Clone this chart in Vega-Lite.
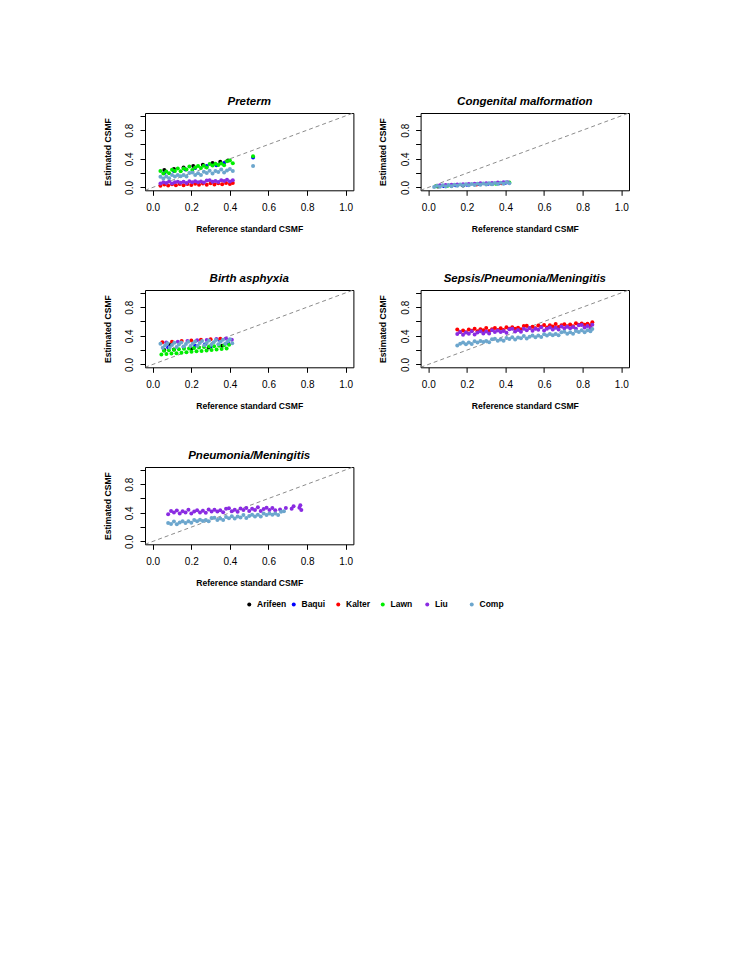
{
"$schema": "https://vega.github.io/schema/vega-lite/v6.json",
"padding": {"left": 102, "top": 95, "right": 5, "bottom": 5},
"background": "white",
"datasets": {
"ab": [{"x": -0.04, "y": -0.04}, {"x": 1.04, "y": 1.04}],
"pre": [
{"s":"Arifeen","x":0.06,"y":0.243},{"s":"Arifeen","x":0.11,"y":0.258},{"s":"Arifeen","x":0.16,"y":0.279},{"s":"Arifeen","x":0.21,"y":0.298},{"s":"Arifeen","x":0.26,"y":0.318},{"s":"Arifeen","x":0.31,"y":0.342},{"s":"Arifeen","x":0.35,"y":0.360},{"s":"Arifeen","x":0.39,"y":0.378},
{"s":"Baqui","x":0.06,"y":0.2},{"s":"Baqui","x":0.11,"y":0.23},{"s":"Baqui","x":0.17,"y":0.25},{"s":"Baqui","x":0.22,"y":0.27},{"s":"Baqui","x":0.28,"y":0.3},{"s":"Baqui","x":0.33,"y":0.31},{"s":"Baqui","x":0.37,"y":0.34},{"s":"Baqui","x":0.52,"y":0.42},
{"s":"Kalter","x":0.04,"y":0.025},{"s":"Kalter","x":0.06,"y":0.042},{"s":"Kalter","x":0.08,"y":0.027},{"s":"Kalter","x":0.10,"y":0.045},{"s":"Kalter","x":0.12,"y":0.030},{"s":"Kalter","x":0.14,"y":0.047},{"s":"Kalter","x":0.16,"y":0.032},{"s":"Kalter","x":0.18,"y":0.049},{"s":"Kalter","x":0.20,"y":0.035},{"s":"Kalter","x":0.22,"y":0.052},{"s":"Kalter","x":0.24,"y":0.037},{"s":"Kalter","x":0.26,"y":0.054},{"s":"Kalter","x":0.28,"y":0.039},{"s":"Kalter","x":0.30,"y":0.057},{"s":"Kalter","x":0.32,"y":0.042},{"s":"Kalter","x":0.34,"y":0.059},{"s":"Kalter","x":0.36,"y":0.044},{"s":"Kalter","x":0.38,"y":0.061},{"s":"Kalter","x":0.40,"y":0.047},{"s":"Kalter","x":0.415,"y":0.063},
{"s":"Lawn","x":0.040,"y":0.231},{"s":"Lawn","x":0.055,"y":0.195},{"s":"Lawn","x":0.070,"y":0.222},{"s":"Lawn","x":0.085,"y":0.197},{"s":"Lawn","x":0.100,"y":0.247},{"s":"Lawn","x":0.115,"y":0.230},{"s":"Lawn","x":0.130,"y":0.264},{"s":"Lawn","x":0.145,"y":0.226},{"s":"Lawn","x":0.160,"y":0.263},{"s":"Lawn","x":0.175,"y":0.249},{"s":"Lawn","x":0.190,"y":0.291},{"s":"Lawn","x":0.205,"y":0.245},{"s":"Lawn","x":0.220,"y":0.277},{"s":"Lawn","x":0.235,"y":0.299},{"s":"Lawn","x":0.250,"y":0.271},{"s":"Lawn","x":0.265,"y":0.303},{"s":"Lawn","x":0.280,"y":0.278},{"s":"Lawn","x":0.295,"y":0.328},{"s":"Lawn","x":0.310,"y":0.305},{"s":"Lawn","x":0.325,"y":0.332},{"s":"Lawn","x":0.340,"y":0.312},{"s":"Lawn","x":0.355,"y":0.334},{"s":"Lawn","x":0.370,"y":0.311},{"s":"Lawn","x":0.385,"y":0.366},{"s":"Lawn","x":0.400,"y":0.375},{"s":"Lawn","x":0.415,"y":0.339},{"s":"Lawn","x":0.52,"y":0.435},
{"s":"Liu","x":0.040,"y":0.054},{"s":"Liu","x":0.055,"y":0.072},{"s":"Liu","x":0.070,"y":0.062},{"s":"Liu","x":0.085,"y":0.083},{"s":"Liu","x":0.100,"y":0.056},{"s":"Liu","x":0.115,"y":0.071},{"s":"Liu","x":0.130,"y":0.081},{"s":"Liu","x":0.145,"y":0.064},{"s":"Liu","x":0.160,"y":0.079},{"s":"Liu","x":0.175,"y":0.063},{"s":"Liu","x":0.190,"y":0.088},{"s":"Liu","x":0.205,"y":0.074},{"s":"Liu","x":0.220,"y":0.087},{"s":"Liu","x":0.235,"y":0.074},{"s":"Liu","x":0.250,"y":0.084},{"s":"Liu","x":0.265,"y":0.069},{"s":"Liu","x":0.280,"y":0.097},{"s":"Liu","x":0.295,"y":0.100},{"s":"Liu","x":0.310,"y":0.079},{"s":"Liu","x":0.325,"y":0.091},{"s":"Liu","x":0.340,"y":0.075},{"s":"Liu","x":0.355,"y":0.100},{"s":"Liu","x":0.370,"y":0.089},{"s":"Liu","x":0.385,"y":0.106},{"s":"Liu","x":0.400,"y":0.083},{"s":"Liu","x":0.415,"y":0.101},
{"s":"Comp","x":0.040,"y":0.151},{"s":"Comp","x":0.055,"y":0.125},{"s":"Comp","x":0.070,"y":0.153},{"s":"Comp","x":0.085,"y":0.129},{"s":"Comp","x":0.100,"y":0.174},{"s":"Comp","x":0.115,"y":0.152},{"s":"Comp","x":0.130,"y":0.175},{"s":"Comp","x":0.145,"y":0.156},{"s":"Comp","x":0.160,"y":0.174},{"s":"Comp","x":0.175,"y":0.152},{"s":"Comp","x":0.190,"y":0.202},{"s":"Comp","x":0.205,"y":0.209},{"s":"Comp","x":0.220,"y":0.175},{"s":"Comp","x":0.235,"y":0.198},{"s":"Comp","x":0.250,"y":0.174},{"s":"Comp","x":0.265,"y":0.219},{"s":"Comp","x":0.280,"y":0.202},{"s":"Comp","x":0.295,"y":0.233},{"s":"Comp","x":0.310,"y":0.196},{"s":"Comp","x":0.325,"y":0.229},{"s":"Comp","x":0.340,"y":0.214},{"s":"Comp","x":0.355,"y":0.252},{"s":"Comp","x":0.370,"y":0.209},{"s":"Comp","x":0.385,"y":0.237},{"s":"Comp","x":0.400,"y":0.256},{"s":"Comp","x":0.415,"y":0.229},{"s":"Comp","x":0.52,"y":0.30}
],
"con": [
{"s":"Arifeen","x":0.05,"y":0.012},{"s":"Arifeen","x":0.18,"y":0.028},{"s":"Arifeen","x":0.33,"y":0.049},
{"s":"Baqui","x":0.08,"y":0.02},{"s":"Baqui","x":0.14,"y":0.03},{"s":"Baqui","x":0.2,"y":0.036},{"s":"Baqui","x":0.26,"y":0.047},{"s":"Baqui","x":0.31,"y":0.052},{"s":"Baqui","x":0.37,"y":0.058},{"s":"Baqui","x":0.4,"y":0.064},
{"s":"Kalter","x":0.12,"y":0.024},{"s":"Kalter","x":0.25,"y":0.04},{"s":"Kalter","x":0.38,"y":0.06},
{"s":"Lawn","x":0.04,"y":0.018},{"s":"Lawn","x":0.1,"y":0.022},{"s":"Lawn","x":0.3,"y":0.05},{"s":"Lawn","x":0.35,"y":0.052},{"s":"Lawn","x":0.42,"y":0.07},
{"s":"Liu","x":0.06,"y":0.029},{"s":"Liu","x":0.09,"y":0.033},{"s":"Liu","x":0.12,"y":0.037},{"s":"Liu","x":0.15,"y":0.041},{"s":"Liu","x":0.18,"y":0.045},{"s":"Liu","x":0.21,"y":0.048},{"s":"Liu","x":0.24,"y":0.052},{"s":"Liu","x":0.27,"y":0.057},{"s":"Liu","x":0.30,"y":0.06},{"s":"Liu","x":0.33,"y":0.063},{"s":"Liu","x":0.36,"y":0.068},{"s":"Liu","x":0.39,"y":0.071},{"s":"Liu","x":0.41,"y":0.074},
{"s":"Comp","x":0.030,"y":0.007},{"s":"Comp","x":0.045,"y":0.025},{"s":"Comp","x":0.060,"y":0.011},{"s":"Comp","x":0.075,"y":0.029},{"s":"Comp","x":0.090,"y":0.014},{"s":"Comp","x":0.105,"y":0.033},{"s":"Comp","x":0.120,"y":0.018},{"s":"Comp","x":0.135,"y":0.036},{"s":"Comp","x":0.150,"y":0.022},{"s":"Comp","x":0.165,"y":0.040},{"s":"Comp","x":0.180,"y":0.026},{"s":"Comp","x":0.195,"y":0.044},{"s":"Comp","x":0.210,"y":0.030},{"s":"Comp","x":0.225,"y":0.048},{"s":"Comp","x":0.240,"y":0.034},{"s":"Comp","x":0.255,"y":0.052},{"s":"Comp","x":0.270,"y":0.038},{"s":"Comp","x":0.285,"y":0.056},{"s":"Comp","x":0.300,"y":0.042},{"s":"Comp","x":0.315,"y":0.059},{"s":"Comp","x":0.330,"y":0.045},{"s":"Comp","x":0.345,"y":0.063},{"s":"Comp","x":0.360,"y":0.049},{"s":"Comp","x":0.375,"y":0.067},{"s":"Comp","x":0.390,"y":0.053},{"s":"Comp","x":0.405,"y":0.071},{"s":"Comp","x":0.420,"y":0.057}
],
"bir": [
{"s":"Arifeen","x":0.06,"y":0.2},{"s":"Arifeen","x":0.11,"y":0.21},{"s":"Arifeen","x":0.2,"y":0.22},{"s":"Arifeen","x":0.29,"y":0.235},{"s":"Arifeen","x":0.36,"y":0.26},{"s":"Arifeen","x":0.09,"y":0.28},
{"s":"Baqui","x":0.08,"y":0.24},{"s":"Baqui","x":0.16,"y":0.245},{"s":"Baqui","x":0.22,"y":0.26},{"s":"Baqui","x":0.27,"y":0.28},{"s":"Baqui","x":0.3,"y":0.25},{"s":"Baqui","x":0.35,"y":0.33},{"s":"Baqui","x":0.39,"y":0.3},
{"s":"Kalter","x":0.05,"y":0.31},{"s":"Kalter","x":0.1,"y":0.318},{"s":"Kalter","x":0.15,"y":0.327},{"s":"Kalter","x":0.2,"y":0.335},{"s":"Kalter","x":0.25,"y":0.345},{"s":"Kalter","x":0.3,"y":0.352},{"s":"Kalter","x":0.35,"y":0.36},
{"s":"Lawn","x":0.045,"y":0.139},{"s":"Lawn","x":0.058,"y":0.192},{"s":"Lawn","x":0.071,"y":0.146},{"s":"Lawn","x":0.084,"y":0.199},{"s":"Lawn","x":0.097,"y":0.152},{"s":"Lawn","x":0.110,"y":0.205},{"s":"Lawn","x":0.123,"y":0.158},{"s":"Lawn","x":0.136,"y":0.211},{"s":"Lawn","x":0.149,"y":0.163},{"s":"Lawn","x":0.162,"y":0.218},{"s":"Lawn","x":0.175,"y":0.170},{"s":"Lawn","x":0.188,"y":0.224},{"s":"Lawn","x":0.201,"y":0.177},{"s":"Lawn","x":0.214,"y":0.231},{"s":"Lawn","x":0.227,"y":0.183},{"s":"Lawn","x":0.240,"y":0.236},{"s":"Lawn","x":0.253,"y":0.189},{"s":"Lawn","x":0.266,"y":0.243},{"s":"Lawn","x":0.279,"y":0.196},{"s":"Lawn","x":0.292,"y":0.249},{"s":"Lawn","x":0.305,"y":0.202},{"s":"Lawn","x":0.318,"y":0.255},{"s":"Lawn","x":0.331,"y":0.208},{"s":"Lawn","x":0.344,"y":0.262},{"s":"Lawn","x":0.357,"y":0.215},{"s":"Lawn","x":0.370,"y":0.268},{"s":"Lawn","x":0.383,"y":0.221},{"s":"Lawn","x":0.396,"y":0.274},
{"s":"Liu","x":0.07,"y":0.305},{"s":"Liu","x":0.13,"y":0.316},{"s":"Liu","x":0.18,"y":0.326},{"s":"Liu","x":0.23,"y":0.338},{"s":"Liu","x":0.28,"y":0.343},{"s":"Liu","x":0.33,"y":0.355},{"s":"Liu","x":0.38,"y":0.362},{"s":"Liu","x":0.41,"y":0.345},
{"s":"Comp","x":0.040,"y":0.290},{"s":"Comp","x":0.052,"y":0.233},{"s":"Comp","x":0.064,"y":0.266},{"s":"Comp","x":0.076,"y":0.297},{"s":"Comp","x":0.088,"y":0.236},{"s":"Comp","x":0.100,"y":0.272},{"s":"Comp","x":0.112,"y":0.304},{"s":"Comp","x":0.124,"y":0.244},{"s":"Comp","x":0.136,"y":0.279},{"s":"Comp","x":0.148,"y":0.308},{"s":"Comp","x":0.160,"y":0.250},{"s":"Comp","x":0.172,"y":0.285},{"s":"Comp","x":0.184,"y":0.316},{"s":"Comp","x":0.196,"y":0.256},{"s":"Comp","x":0.208,"y":0.291},{"s":"Comp","x":0.220,"y":0.321},{"s":"Comp","x":0.232,"y":0.262},{"s":"Comp","x":0.244,"y":0.298},{"s":"Comp","x":0.256,"y":0.327},{"s":"Comp","x":0.268,"y":0.269},{"s":"Comp","x":0.280,"y":0.304},{"s":"Comp","x":0.292,"y":0.335},{"s":"Comp","x":0.304,"y":0.275},{"s":"Comp","x":0.316,"y":0.311},{"s":"Comp","x":0.328,"y":0.340},{"s":"Comp","x":0.340,"y":0.282},{"s":"Comp","x":0.352,"y":0.317},{"s":"Comp","x":0.364,"y":0.346},{"s":"Comp","x":0.376,"y":0.288},{"s":"Comp","x":0.388,"y":0.324},{"s":"Comp","x":0.400,"y":0.352},{"s":"Comp","x":0.412,"y":0.296}
],
"sep": [
{"s":"Kalter","x":0.150,"y":0.487},{"s":"Kalter","x":0.165,"y":0.454},{"s":"Kalter","x":0.180,"y":0.474},{"s":"Kalter","x":0.195,"y":0.450},{"s":"Kalter","x":0.210,"y":0.489},{"s":"Kalter","x":0.225,"y":0.472},{"s":"Kalter","x":0.240,"y":0.498},{"s":"Kalter","x":0.255,"y":0.463},{"s":"Kalter","x":0.270,"y":0.492},{"s":"Kalter","x":0.285,"y":0.476},{"s":"Kalter","x":0.300,"y":0.510},{"s":"Kalter","x":0.315,"y":0.468},{"s":"Kalter","x":0.330,"y":0.492},{"s":"Kalter","x":0.345,"y":0.508},{"s":"Kalter","x":0.360,"y":0.481},{"s":"Kalter","x":0.375,"y":0.505},{"s":"Kalter","x":0.390,"y":0.481},{"s":"Kalter","x":0.405,"y":0.521},{"s":"Kalter","x":0.420,"y":0.499},{"s":"Kalter","x":0.435,"y":0.519},{"s":"Kalter","x":0.450,"y":0.499},{"s":"Kalter","x":0.465,"y":0.514},{"s":"Kalter","x":0.480,"y":0.493},{"s":"Kalter","x":0.495,"y":0.537},{"s":"Kalter","x":0.510,"y":0.541},{"s":"Kalter","x":0.525,"y":0.508},{"s":"Kalter","x":0.540,"y":0.528},{"s":"Kalter","x":0.555,"y":0.504},{"s":"Kalter","x":0.570,"y":0.543},{"s":"Kalter","x":0.585,"y":0.526},{"s":"Kalter","x":0.600,"y":0.552},{"s":"Kalter","x":0.615,"y":0.517},{"s":"Kalter","x":0.630,"y":0.546},{"s":"Kalter","x":0.645,"y":0.530},{"s":"Kalter","x":0.660,"y":0.564},{"s":"Kalter","x":0.675,"y":0.522},{"s":"Kalter","x":0.690,"y":0.546},{"s":"Kalter","x":0.705,"y":0.561},{"s":"Kalter","x":0.720,"y":0.535},{"s":"Kalter","x":0.735,"y":0.559},{"s":"Kalter","x":0.750,"y":0.535},{"s":"Kalter","x":0.765,"y":0.575},{"s":"Kalter","x":0.780,"y":0.553},{"s":"Kalter","x":0.795,"y":0.573},{"s":"Kalter","x":0.810,"y":0.553},{"s":"Kalter","x":0.825,"y":0.569},{"s":"Kalter","x":0.840,"y":0.547},{"s":"Kalter","x":0.850,"y":0.591},
{"s":"Liu","x":0.150,"y":0.425},{"s":"Liu","x":0.165,"y":0.454},{"s":"Liu","x":0.180,"y":0.415},{"s":"Liu","x":0.195,"y":0.446},{"s":"Liu","x":0.210,"y":0.429},{"s":"Liu","x":0.225,"y":0.465},{"s":"Liu","x":0.240,"y":0.420},{"s":"Liu","x":0.255,"y":0.446},{"s":"Liu","x":0.270,"y":0.462},{"s":"Liu","x":0.285,"y":0.433},{"s":"Liu","x":0.300,"y":0.460},{"s":"Liu","x":0.315,"y":0.433},{"s":"Liu","x":0.330,"y":0.476},{"s":"Liu","x":0.345,"y":0.452},{"s":"Liu","x":0.360,"y":0.474},{"s":"Liu","x":0.375,"y":0.452},{"s":"Liu","x":0.390,"y":0.468},{"s":"Liu","x":0.405,"y":0.444},{"s":"Liu","x":0.420,"y":0.492},{"s":"Liu","x":0.435,"y":0.497},{"s":"Liu","x":0.450,"y":0.461},{"s":"Liu","x":0.465,"y":0.482},{"s":"Liu","x":0.480,"y":0.456},{"s":"Liu","x":0.495,"y":0.499},{"s":"Liu","x":0.510,"y":0.479},{"s":"Liu","x":0.525,"y":0.508},{"s":"Liu","x":0.540,"y":0.469},{"s":"Liu","x":0.555,"y":0.500},{"s":"Liu","x":0.570,"y":0.483},{"s":"Liu","x":0.585,"y":0.519},{"s":"Liu","x":0.600,"y":0.474},{"s":"Liu","x":0.615,"y":0.500},{"s":"Liu","x":0.630,"y":0.516},{"s":"Liu","x":0.645,"y":0.488},{"s":"Liu","x":0.660,"y":0.514},{"s":"Liu","x":0.675,"y":0.487},{"s":"Liu","x":0.690,"y":0.530},{"s":"Liu","x":0.705,"y":0.506},{"s":"Liu","x":0.720,"y":0.528},{"s":"Liu","x":0.735,"y":0.506},{"s":"Liu","x":0.750,"y":0.522},{"s":"Liu","x":0.765,"y":0.498},{"s":"Liu","x":0.780,"y":0.546},{"s":"Liu","x":0.795,"y":0.551},{"s":"Liu","x":0.810,"y":0.515},{"s":"Liu","x":0.825,"y":0.536},{"s":"Liu","x":0.840,"y":0.510},{"s":"Liu","x":0.850,"y":0.553},
{"s":"Comp","x":0.150,"y":0.265},{"s":"Comp","x":0.165,"y":0.289},{"s":"Comp","x":0.180,"y":0.305},{"s":"Comp","x":0.195,"y":0.283},{"s":"Comp","x":0.210,"y":0.307},{"s":"Comp","x":0.225,"y":0.287},{"s":"Comp","x":0.240,"y":0.325},{"s":"Comp","x":0.255,"y":0.307},{"s":"Comp","x":0.270,"y":0.328},{"s":"Comp","x":0.285,"y":0.312},{"s":"Comp","x":0.300,"y":0.328},{"s":"Comp","x":0.315,"y":0.310},{"s":"Comp","x":0.330,"y":0.352},{"s":"Comp","x":0.345,"y":0.358},{"s":"Comp","x":0.360,"y":0.330},{"s":"Comp","x":0.375,"y":0.350},{"s":"Comp","x":0.390,"y":0.330},{"s":"Comp","x":0.405,"y":0.368},{"s":"Comp","x":0.420,"y":0.354},{"s":"Comp","x":0.435,"y":0.380},{"s":"Comp","x":0.450,"y":0.350},{"s":"Comp","x":0.465,"y":0.378},{"s":"Comp","x":0.480,"y":0.366},{"s":"Comp","x":0.495,"y":0.399},{"s":"Comp","x":0.510,"y":0.363},{"s":"Comp","x":0.525,"y":0.387},{"s":"Comp","x":0.540,"y":0.403},{"s":"Comp","x":0.555,"y":0.381},{"s":"Comp","x":0.570,"y":0.405},{"s":"Comp","x":0.585,"y":0.385},{"s":"Comp","x":0.600,"y":0.423},{"s":"Comp","x":0.615,"y":0.405},{"s":"Comp","x":0.630,"y":0.425},{"s":"Comp","x":0.645,"y":0.409},{"s":"Comp","x":0.660,"y":0.425},{"s":"Comp","x":0.675,"y":0.407},{"s":"Comp","x":0.690,"y":0.449},{"s":"Comp","x":0.705,"y":0.455},{"s":"Comp","x":0.720,"y":0.428},{"s":"Comp","x":0.735,"y":0.448},{"s":"Comp","x":0.750,"y":0.428},{"s":"Comp","x":0.765,"y":0.466},{"s":"Comp","x":0.780,"y":0.452},{"s":"Comp","x":0.795,"y":0.478},{"s":"Comp","x":0.810,"y":0.448},{"s":"Comp","x":0.825,"y":0.476},{"s":"Comp","x":0.840,"y":0.464},{"s":"Comp","x":0.850,"y":0.496}
],
"pne": [
{"s":"Liu","x":0.080,"y":0.379},{"s":"Liu","x":0.095,"y":0.425},{"s":"Liu","x":0.110,"y":0.403},{"s":"Liu","x":0.125,"y":0.433},{"s":"Liu","x":0.140,"y":0.390},{"s":"Liu","x":0.155,"y":0.423},{"s":"Liu","x":0.170,"y":0.403},{"s":"Liu","x":0.185,"y":0.441},{"s":"Liu","x":0.200,"y":0.391},{"s":"Liu","x":0.215,"y":0.418},{"s":"Liu","x":0.230,"y":0.435},{"s":"Liu","x":0.245,"y":0.403},{"s":"Liu","x":0.260,"y":0.430},{"s":"Liu","x":0.275,"y":0.401},{"s":"Liu","x":0.290,"y":0.446},{"s":"Liu","x":0.305,"y":0.419},{"s":"Liu","x":0.320,"y":0.442},{"s":"Liu","x":0.335,"y":0.417},{"s":"Liu","x":0.350,"y":0.434},{"s":"Liu","x":0.365,"y":0.407},{"s":"Liu","x":0.380,"y":0.458},{"s":"Liu","x":0.395,"y":0.462},{"s":"Liu","x":0.410,"y":0.422},{"s":"Liu","x":0.425,"y":0.444},{"s":"Liu","x":0.440,"y":0.414},{"s":"Liu","x":0.455,"y":0.460},{"s":"Liu","x":0.470,"y":0.438},{"s":"Liu","x":0.485,"y":0.468},{"s":"Liu","x":0.500,"y":0.425},{"s":"Liu","x":0.515,"y":0.458},{"s":"Liu","x":0.530,"y":0.439},{"s":"Liu","x":0.545,"y":0.477},{"s":"Liu","x":0.560,"y":0.426},{"s":"Liu","x":0.575,"y":0.454},{"s":"Liu","x":0.590,"y":0.471},{"s":"Liu","x":0.605,"y":0.438},{"s":"Liu","x":0.620,"y":0.466},{"s":"Liu","x":0.635,"y":0.436},{"s":"Liu","x":0.66,"y":0.445},{"s":"Liu","x":0.69,"y":0.468},{"s":"Liu","x":0.72,"y":0.455},{"s":"Liu","x":0.73,"y":0.49},{"s":"Liu","x":0.76,"y":0.47},{"s":"Liu","x":0.765,"y":0.505},{"s":"Liu","x":0.77,"y":0.44},
{"s":"Comp","x":0.080,"y":0.259},{"s":"Comp","x":0.095,"y":0.245},{"s":"Comp","x":0.110,"y":0.280},{"s":"Comp","x":0.125,"y":0.239},{"s":"Comp","x":0.140,"y":0.265},{"s":"Comp","x":0.155,"y":0.282},{"s":"Comp","x":0.170,"y":0.257},{"s":"Comp","x":0.185,"y":0.283},{"s":"Comp","x":0.200,"y":0.260},{"s":"Comp","x":0.215,"y":0.301},{"s":"Comp","x":0.230,"y":0.281},{"s":"Comp","x":0.245,"y":0.302},{"s":"Comp","x":0.260,"y":0.284},{"s":"Comp","x":0.275,"y":0.301},{"s":"Comp","x":0.290,"y":0.281},{"s":"Comp","x":0.305,"y":0.326},{"s":"Comp","x":0.320,"y":0.332},{"s":"Comp","x":0.335,"y":0.301},{"s":"Comp","x":0.350,"y":0.322},{"s":"Comp","x":0.365,"y":0.299},{"s":"Comp","x":0.380,"y":0.340},{"s":"Comp","x":0.395,"y":0.324},{"s":"Comp","x":0.410,"y":0.352},{"s":"Comp","x":0.425,"y":0.319},{"s":"Comp","x":0.440,"y":0.349},{"s":"Comp","x":0.455,"y":0.335},{"s":"Comp","x":0.470,"y":0.370},{"s":"Comp","x":0.485,"y":0.329},{"s":"Comp","x":0.500,"y":0.355},{"s":"Comp","x":0.515,"y":0.372},{"s":"Comp","x":0.530,"y":0.347},{"s":"Comp","x":0.545,"y":0.373},{"s":"Comp","x":0.560,"y":0.350},{"s":"Comp","x":0.575,"y":0.391},{"s":"Comp","x":0.590,"y":0.371},{"s":"Comp","x":0.605,"y":0.392},{"s":"Comp","x":0.620,"y":0.374},{"s":"Comp","x":0.635,"y":0.391},{"s":"Comp","x":0.650,"y":0.371},{"s":"Comp","x":0.665,"y":0.416},{"s":"Comp","x":0.680,"y":0.422}
]
},
"concat": [
{"width": 208.4, "height": 77.3, "title": {"text": "Preterm"},
 "encoding": {"x": {"field": "x", "type": "quantitative", "scale": {"domain": [-0.04, 1.04], "nice": false, "zero": false}, "axis": {"title": "Reference standard CSMF", "values": [0, 0.2, 0.4, 0.6, 0.8, 1], "format": ".1f"}},
              "y": {"field": "y", "type": "quantitative", "scale": {"domain": [-0.04, 1.04], "nice": false, "zero": false}, "axis": {"title": "Estimated CSMF", "values": [0, 0.2, 0.4, 0.6, 0.8, 1], "format": ".1f", "labelExpr": "(datum.value < 0.01 || (datum.value > 0.39 && datum.value < 0.41) || (datum.value > 0.79 && datum.value < 0.81)) ? datum.label : ''"}}},
 "layer": [
  {"data": {"name": "ab"}, "mark": {"type": "line", "strokeDash": [4, 3], "color": "#8c8c8c", "strokeWidth": 1, "clip": true}},
  {"data": {"name": "pre"}, "mark": {"type": "circle", "size": 16, "opacity": 1},
   "encoding": {"color": {"field": "s", "type": "nominal", "scale": {"domain": ["Arifeen", "Baqui", "Kalter", "Lawn", "Liu", "Comp"], "range": ["#000000", "#0000ff", "#ff0000", "#00ee00", "#8a2be2", "#6ca6cd"]},
                          "legend": {"orient": "none", "legendX": 100, "legendY": 487, "direction": "horizontal", "columns": 6, "title": null, "symbolType": "circle", "symbolSize": 16, "labelFontSize": 8.5, "labelFontWeight": "bold", "labelFont": "Liberation Sans", "labelColor": "black", "gridAlign": "all", "columnPadding": 2.5, "labelOffset": 3.5, "symbolStrokeWidth": 0}}}}
 ]},
{"width": 208.4, "height": 77.3, "title": {"text": "Congenital malformation"},
 "encoding": {"x": {"field": "x", "type": "quantitative", "scale": {"domain": [-0.04, 1.04], "nice": false, "zero": false}, "axis": {"title": "Reference standard CSMF", "values": [0, 0.2, 0.4, 0.6, 0.8, 1], "format": ".1f"}},
              "y": {"field": "y", "type": "quantitative", "scale": {"domain": [-0.04, 1.04], "nice": false, "zero": false}, "axis": {"title": "Estimated CSMF", "values": [0, 0.2, 0.4, 0.6, 0.8, 1], "format": ".1f", "labelExpr": "(datum.value < 0.01 || (datum.value > 0.39 && datum.value < 0.41) || (datum.value > 0.79 && datum.value < 0.81)) ? datum.label : ''"}}},
 "layer": [
  {"data": {"name": "ab"}, "mark": {"type": "line", "strokeDash": [4, 3], "color": "#8c8c8c", "strokeWidth": 1, "clip": true}},
  {"data": {"name": "con"}, "mark": {"type": "circle", "size": 16, "opacity": 1}, "encoding": {"color": {"field": "s", "type": "nominal"}}}
 ]},
{"width": 208.4, "height": 77.3, "title": {"text": "Birth asphyxia"},
 "encoding": {"x": {"field": "x", "type": "quantitative", "scale": {"domain": [-0.04, 1.04], "nice": false, "zero": false}, "axis": {"title": "Reference standard CSMF", "values": [0, 0.2, 0.4, 0.6, 0.8, 1], "format": ".1f"}},
              "y": {"field": "y", "type": "quantitative", "scale": {"domain": [-0.04, 1.04], "nice": false, "zero": false}, "axis": {"title": "Estimated CSMF", "values": [0, 0.2, 0.4, 0.6, 0.8, 1], "format": ".1f", "labelExpr": "(datum.value < 0.01 || (datum.value > 0.39 && datum.value < 0.41) || (datum.value > 0.79 && datum.value < 0.81)) ? datum.label : ''"}}},
 "layer": [
  {"data": {"name": "ab"}, "mark": {"type": "line", "strokeDash": [4, 3], "color": "#8c8c8c", "strokeWidth": 1, "clip": true}},
  {"data": {"name": "bir"}, "mark": {"type": "circle", "size": 16, "opacity": 1}, "encoding": {"color": {"field": "s", "type": "nominal"}}}
 ]},
{"width": 208.4, "height": 77.3, "title": {"text": "Sepsis/Pneumonia/Meningitis"},
 "encoding": {"x": {"field": "x", "type": "quantitative", "scale": {"domain": [-0.04, 1.04], "nice": false, "zero": false}, "axis": {"title": "Reference standard CSMF", "values": [0, 0.2, 0.4, 0.6, 0.8, 1], "format": ".1f"}},
              "y": {"field": "y", "type": "quantitative", "scale": {"domain": [-0.04, 1.04], "nice": false, "zero": false}, "axis": {"title": "Estimated CSMF", "values": [0, 0.2, 0.4, 0.6, 0.8, 1], "format": ".1f", "labelExpr": "(datum.value < 0.01 || (datum.value > 0.39 && datum.value < 0.41) || (datum.value > 0.79 && datum.value < 0.81)) ? datum.label : ''"}}},
 "layer": [
  {"data": {"name": "ab"}, "mark": {"type": "line", "strokeDash": [4, 3], "color": "#8c8c8c", "strokeWidth": 1, "clip": true}},
  {"data": {"name": "sep"}, "mark": {"type": "circle", "size": 16, "opacity": 1}, "encoding": {"color": {"field": "s", "type": "nominal"}}}
 ]},
{"width": 208.4, "height": 77.3, "title": {"text": "Pneumonia/Meningitis"},
 "encoding": {"x": {"field": "x", "type": "quantitative", "scale": {"domain": [-0.04, 1.04], "nice": false, "zero": false}, "axis": {"title": "Reference standard CSMF", "values": [0, 0.2, 0.4, 0.6, 0.8, 1], "format": ".1f"}},
              "y": {"field": "y", "type": "quantitative", "scale": {"domain": [-0.04, 1.04], "nice": false, "zero": false}, "axis": {"title": "Estimated CSMF", "values": [0, 0.2, 0.4, 0.6, 0.8, 1], "format": ".1f", "labelExpr": "(datum.value < 0.01 || (datum.value > 0.39 && datum.value < 0.41) || (datum.value > 0.79 && datum.value < 0.81)) ? datum.label : ''"}}},
 "layer": [
  {"data": {"name": "ab"}, "mark": {"type": "line", "strokeDash": [4, 3], "color": "#8c8c8c", "strokeWidth": 1, "clip": true}},
  {"data": {"name": "pne"}, "mark": {"type": "circle", "size": 16, "opacity": 1}, "encoding": {"color": {"field": "s", "type": "nominal"}}}
 ]}
],
"columns": 2,
"spacing": {"row": 99, "column": 66.6},
"bounds": "flush",
"config": {
 "font": "Liberation Sans",
 "view": {"stroke": "black", "strokeWidth": 1},
 "axis": {"domain": false, "grid": false, "ticks": true, "tickSize": 5, "tickColor": "black", "tickWidth": 1, "labelColor": "black", "labelFont": "Liberation Sans", "labelFontSize": 10, "titleFont": "Liberation Sans", "titleFontSize": 8.6, "titleFontWeight": "bold", "titleColor": "black", "labelOverlap": false, "labelFlush": false},
 "axisX": {"labelPadding": 15.6, "labelBaseline": "alphabetic", "labelAngle": 0, "titleY": 41, "titleBaseline": "alphabetic"},
 "axisY": {"labelPadding": 7.2, "labelAngle": 270, "labelAlign": "center", "labelBaseline": "alphabetic", "titleX": -35, "titleY": 38.6, "titleAngle": 270, "titleAlign": "center", "titleBaseline": "alphabetic"},
 "title": {"font": "Liberation Sans", "fontSize": 11.5, "fontStyle": "italic", "fontWeight": "bold", "color": "black", "anchor": "middle", "baseline": "alphabetic", "offset": 6}
}
}
